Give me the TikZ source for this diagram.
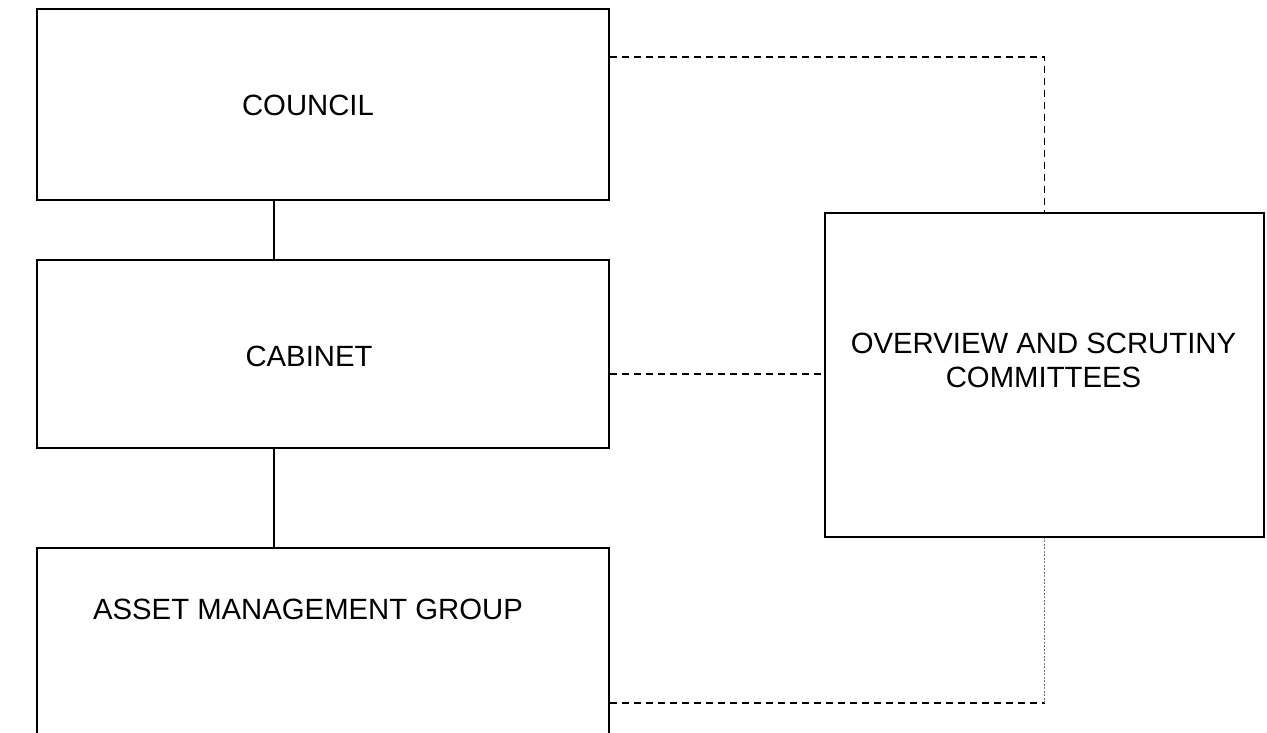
\documentclass[tikz,border=0pt]{standalone}
\usepackage{fontspec}
\setmainfont{Liberation Sans}
\begin{document}
\begin{tikzpicture}[x=1pt,y=-1pt,
  box/.style={draw, line width=1.8pt, rectangle, inner sep=0pt},
  lbl/.style={font=\fontsize{29.3}{34}\selectfont, align=center, inner sep=0pt},
  solidline/.style={line width=1.8pt},
  dashline/.style={line width=1.6pt, dash pattern=on 7pt off 5pt},
  dotline/.style={line width=1.6pt, black!55, dash pattern=on 2pt off 1.5pt}]
\clip (0,0) rectangle (1267,733);
\fill[white] (0,0) rectangle (1267,733);
% boxes
\node[box, minimum width=572pt, minimum height=191pt] (council) at (323,104.5) {};
\node[box, minimum width=572pt, minimum height=188pt] (cabinet) at (323,354) {};
\node[box, minimum width=572pt, minimum height=200pt] (asset) at (323,648) {};
\node[box, minimum width=439pt, minimum height=324pt] (over) at (1044.5,375) {};
% labels
\node[lbl] (councilT) at (308,105) {COUNCIL};
\node[lbl] (cabinetT) at (309,356) {CABINET};
\node[lbl] (assetT) at (308,609) {ASSET MANAGEMENT GROUP};
\node[lbl] (overT) at (1043.5,360) {OVERVIEW AND SCRUTINY\\COMMITTEES};
% solid connectors
\draw[solidline] (council.south -| 274,0) -- (cabinet.north -| 274,0);
\draw[solidline] (cabinet.south -| 274,0) -- (asset.north -| 274,0);
% dashed connectors
\draw[dashline] (council.east |- 0,57) -| (over.north);
\draw[dashline] (cabinet.east |- 0,374) -- (over.west |- 0,374);
\coordinate (corner) at (over.south |- 0,703);
\draw[dashline] (asset.east |- 0,703) -- (corner);
\draw[dotline] (corner) -- (over.south);
\end{tikzpicture}
\end{document}
